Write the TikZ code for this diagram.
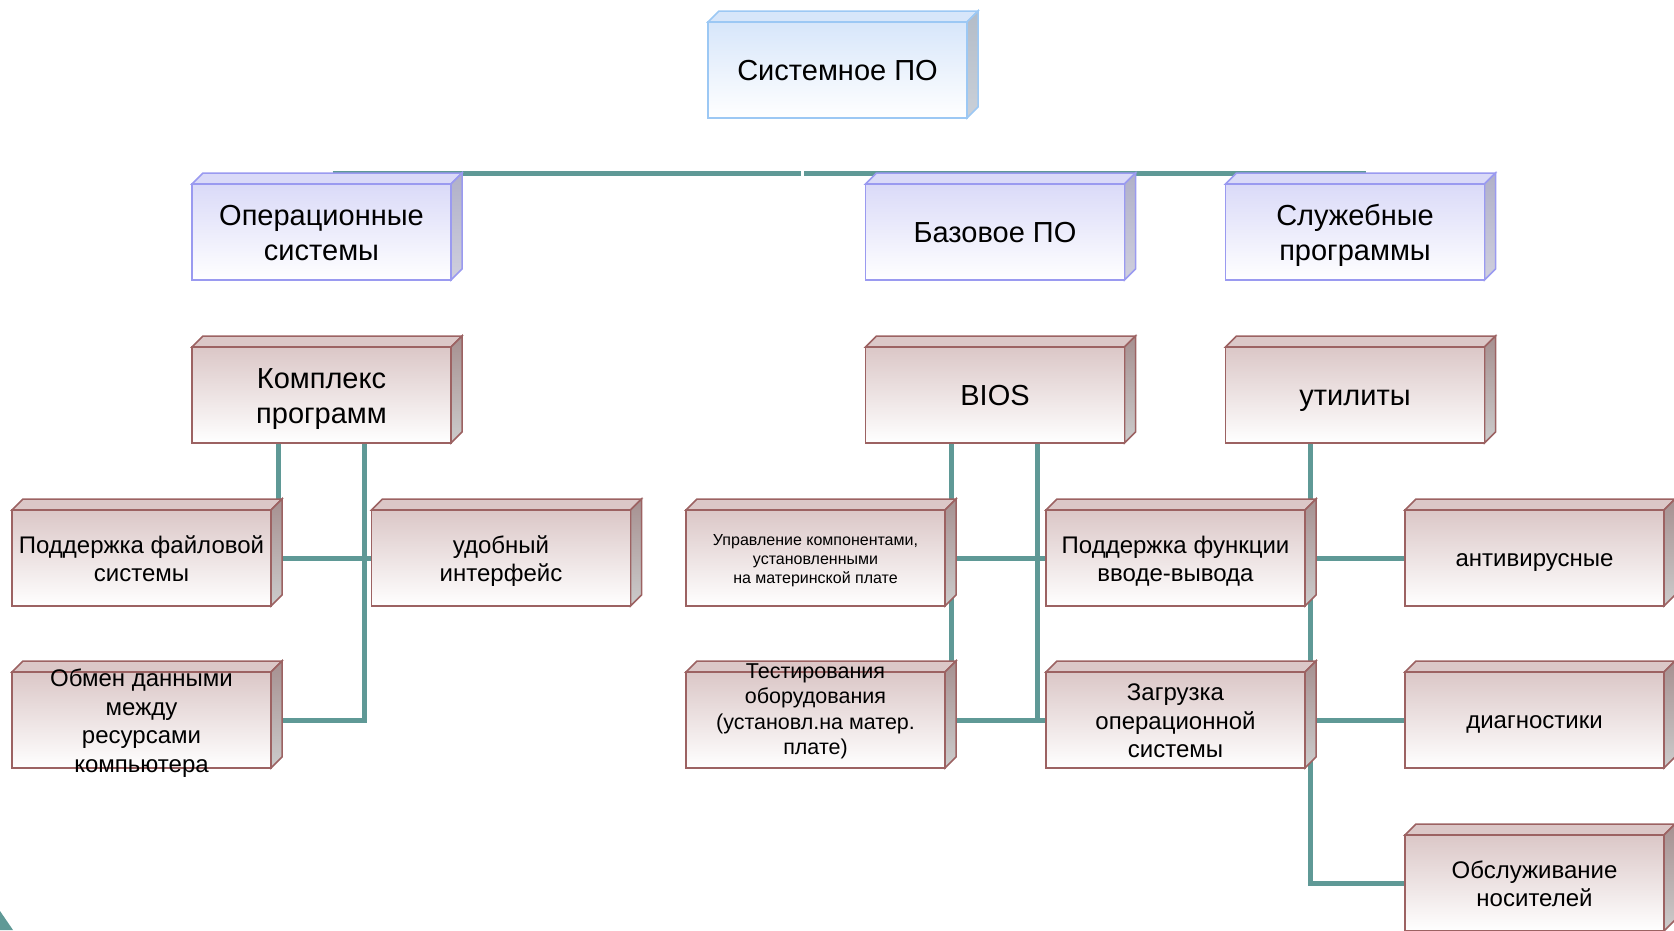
\documentclass[tikz,border=0pt]{standalone}
\usepackage{fontspec}
\setmainfont{Liberation Sans}
\usetikzlibrary{calc}

\definecolor{sysfill}{HTML}{D7E6FA}
\definecolor{sysedge}{HTML}{9CC8F4}
\definecolor{sysside}{HTML}{B3BCC8}
\definecolor{grpfill}{HTML}{DADAF8}
\definecolor{grpedge}{HTML}{9A9AF0}
\definecolor{grpside}{HTML}{B0B0C8}
\definecolor{itemfill}{HTML}{DBC7C7}
\definecolor{itemedge}{HTML}{9C6262}
\definecolor{itemside}{HTML}{A69090}
\definecolor{linkc}{RGB}{95,153,150}

\pgfdeclarelayer{back}
\pgfdeclarelayer{faces}
\pgfsetlayers{back,faces,main}

\newcommand{\boxstrut}{\rule[-0.212em]{0pt}{1.117em}}
\newcommand{\topstrut}{\rule{0pt}{\dimexpr0.905em+2pt\relax}}

\tikzset{
    txt/.style={align=center, execute at begin node=\boxstrut,
        execute at end node=\boxstrut},
    bigtxt/.style={font=\fontsize{29}{35}\selectfont},
    midtxt/.style={font=\fontsize{24}{28.5}\selectfont},
    blk/.style={draw, line width=1.5pt, minimum width=259pt,
        minimum height=96pt, inner sep=1pt, outer sep=0pt,
        txt, bottom color=white, midtxt},
    sysblk/.style={blk, draw=sysedge, top color=sysfill},
    grpblk/.style={blk, draw=grpedge, top color=grpfill, bigtxt},
    itemblk/.style={blk, draw=itemedge, top color=itemfill},
    sys-top/.style={draw=sysedge, line width=1.5pt, fill=sysfill},
    sys-side/.style={draw=sysedge, line width=1.5pt, top color=sysside, bottom color=sysside!70!white},
    grp-top/.style={draw=grpedge, line width=1.5pt, fill=grpfill},
    grp-side/.style={draw=grpedge, line width=1.5pt, top color=grpside, bottom color=grpside!60!white},
    item-top/.style={draw=itemedge, line width=1.5pt, fill=itemfill},
    item-side/.style={draw=itemedge, line width=1.5pt, top color=itemside, bottom color=black!20},
    link/.style={draw=linkc, line width=5pt}
}

\begin{document}
\begin{tikzpicture}[x=1pt,y=-1pt]

\useasboundingbox (0,0) rectangle (1674,930);
\clip (0,0) rectangle (1674,930);

% top
\node[sysblk, bigtxt] (sys) at (837.5,70) {Системное ПО};

% groups
\node[grpblk] (os) at (321.5,232) {\topstrut Операционные\\системы};
\node[grpblk] (base) at (995,232) {Базовое ПО};
\node[grpblk] (serv) at (1355,232) {\topstrut Служебные\\программы};

% second level
\node[itemblk, bigtxt] (kompl) at (321.5,395) {\topstrut Комплекс\\программ};
\node[itemblk, bigtxt] (bios) at (995,395) {BIOS};
\node[itemblk, bigtxt] (util) at (1355,395) {утилиты};

% OS items
\node[itemblk] (fs) at (141.5,558) {\topstrut Поддержка файловой\\системы};
\node[itemblk] (ui) at (501,558) {\topstrut удобный\\интерфейс};
\node[itemblk, label={[txt, midtxt]center:{\topstrut Обмен данными\\между\\ ресурсами\\компьютера}}]
    (dx) at (141.5,720) {};

% BIOS items
\node[itemblk, font=\fontsize{16}{19}\selectfont] (ctrl) at (815.5,558)
    {\topstrut Управление компонентами,\\установленными\\на материнской плате};
\node[itemblk, label={[txt, font=\fontsize{21.5}{25.5}\selectfont, yshift=12pt]center:{\topstrut Тестирования\\оборудования\\(установл.на матер.\\плате)}}]
    (test) at (815.5,720) {};
\node[itemblk] (io) at (1175.5,558) {\topstrut Поддержка функции\\вводе-вывода};
\node[itemblk] (boot) at (1175.5,720) {\topstrut Загрузка\\операционной\\системы};

% utilities
\node[itemblk] (av) at (1534.5,558) {антивирусные};
\node[itemblk] (diag) at (1534.5,720) {диагностики};
\node[itemblk] (media) at (1534.5,883) {\topstrut Обслуживание\\носителей};

\begin{pgfonlayer}{back}
% bar
\coordinate (barmid) at (802.5,173);
\draw[link] ([shift={(11,-11)}]os.north) -- ([xshift=-1.5pt]barmid);
\draw[link] ([xshift=1.5pt]barmid) -- ([shift={(11,-11)}]serv.north);

% links
\draw[link] ([xshift=86pt]kompl.south west) |- (fs.east);
\draw[link] ([xshift=172pt]kompl.south west) |- (dx.east);
\draw[link] (fs.east) -- (ui.west);

\draw[link] ([xshift=86pt]bios.south west) |- (test.east);
\draw[link] ([xshift=172pt]bios.south west) |- (test.east);
\draw[link] (ctrl.east) -- (io.west);
\draw[link] (test.east) -- (boot.west);

\draw[link] ([xshift=85pt]util.south west) |- (media.west);
\draw[link] (io.east) -- (av.west);
\draw[link] (boot.east) -- (diag.west);
\end{pgfonlayer}

% depth faces
\begin{pgfonlayer}{faces}
\foreach \n/\f in {sys/sys, os/grp, base/grp, serv/grp, kompl/item, bios/item,
    util/item, fs/item, ui/item, dx/item, ctrl/item, test/item, io/item,
    boot/item, av/item, diag/item, media/item}{
    \path[\f-top] (\n.north west) -- ++(11,-11)
        -- ([shift={(11,-11)}]\n.north east) -- (\n.north east) -- cycle;
    \path[\f-side] (\n.north east) -- ++(11,-11)
        -- ([shift={(11,-11)}]\n.south east) -- (\n.south east) -- cycle;
}
\end{pgfonlayer}

% corner
\fill[linkc] (0,911) -- (13,930) -- (0,930) -- cycle;

\end{tikzpicture}
\end{document}
